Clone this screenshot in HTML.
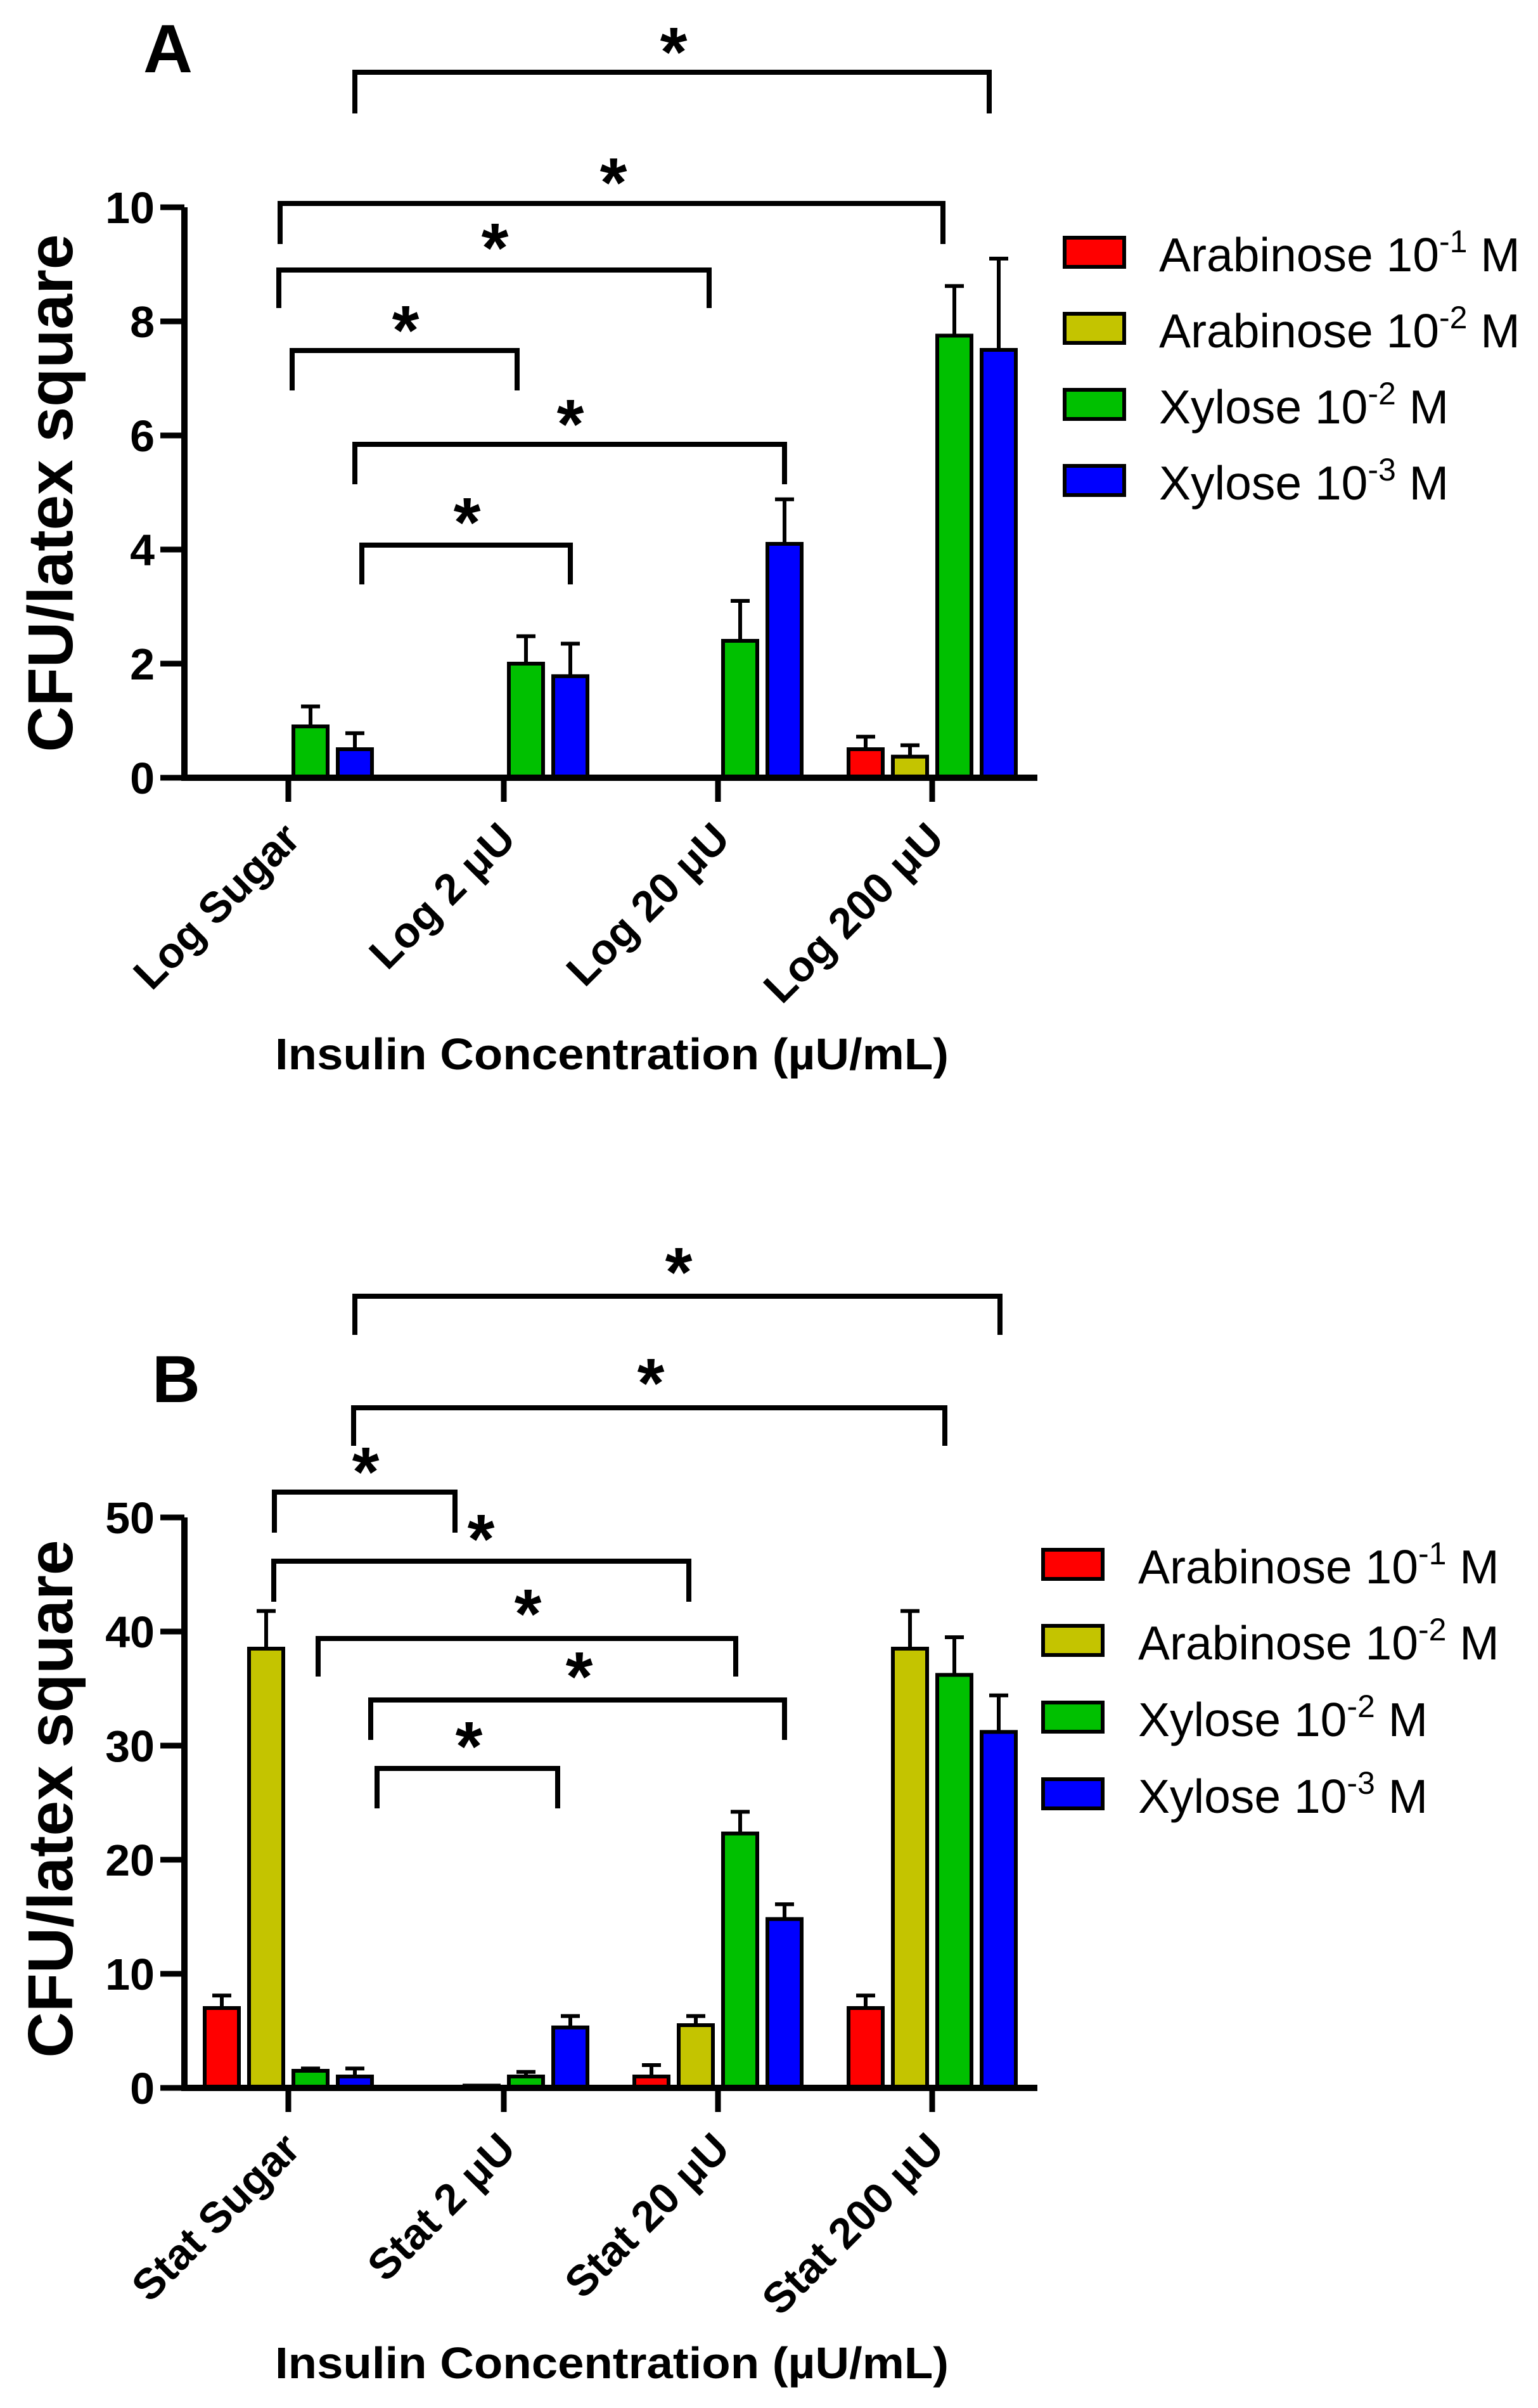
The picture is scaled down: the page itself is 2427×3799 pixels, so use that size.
<!DOCTYPE html>
<html><head><meta charset="utf-8"><style>
html,body{margin:0;padding:0;background:#fff;}
svg{display:block;font-family:"Liberation Sans",Arial,sans-serif;}
</style></head><body>
<svg id="chart" width="2427" height="3799" viewBox="0 0 2427 3799" xmlns="http://www.w3.org/2000/svg">
<rect width="2427" height="3799" fill="#fff"/>
</svg>
<script>
// ---- data ----
const seriesNames = ["Arabinose 10", "Arabinose 10", "Xylose 10", "Xylose 10"];
const seriesExp = ["-1", "-2", "-2", "-3"];
const seriesColors = ["#ff0000", "#c4c400", "#00c000", "#0000ff"];
const catsA = ["Log Sugar", "Log 2 \u03bcU", "Log 20 \u03bcU", "Log 200 \u03bcU"];
const catsB = ["Stat Sugar", "Stat 2 \u03bcU", "Stat 20 \u03bcU", "Stat 200 \u03bcU"];
const arabinose1A = [0, 0, 0, 0.5];
const arabinose2A = [0, 0, 0, 0.37];
const xylose2A = [0.9, 2.0, 2.4, 7.75];
const xylose3A = [0.5, 1.78, 4.1, 7.5];
const arabinose1AErr = [0, 0, 0, 0.22];
const arabinose2AErr = [0, 0, 0, 0.2];
const xylose2AErr = [0.35, 0.48, 0.7, 0.87];
const xylose3AErr = [0.28, 0.57, 0.78, 1.6];
const ticksA = [0, 2, 4, 6, 8, 10];

const arabinose1B = [7.0, 0, 1.0, 7.0];
const arabinose2B = [38.5, 0.2, 5.5, 38.5];
const xylose2B = [1.5, 1.0, 22.3, 36.2];
const xylose3B = [1.0, 5.3, 14.8, 31.2];
const arabinose1BErr = [1.1, 0, 1.0, 1.1];
const arabinose2BErr = [3.3, 0, 0.8, 3.3];
const xylose2BErr = [0.2, 0.4, 1.9, 3.3];
const xylose3BErr = [0.7, 1.0, 1.3, 3.2];
const ticksB = [0, 10, 20, 30, 40, 50];

const NS = "http://www.w3.org/2000/svg";
const svg = document.getElementById("chart");
function mk(tag, attrs, parent) {
  const e = document.createElementNS(NS, tag);
  for (const k in attrs) e.setAttribute(k, attrs[k]);
  (parent || svg).appendChild(e);
  return e;
}

function panel(cfg) {
  const g = mk("g", {});
  
  
  const y = v => cfg.y0 - v / cfg.max * (cfg.y0 - cfg.yTop);
  const groupX = [455, 795, 1133, 1471];
  const offs = [-105, -35, 35, 105];
  const bw = 54;
  cfg.series.forEach((vals, s) => {
    vals.forEach((v, c) => {
      const cx = groupX[c] + offs[s];
      if (v > 0) {
        const r = mk("rect", {x: cx - bw/2, y: y(v), width: bw, height: cfg.y0 - y(v), fill: seriesColors[s], stroke: "#000", "stroke-width": 6}, g);
        
        
        const e = cfg.errs[s][c];
        if (e > 0) {
          const l = mk("path", {d: `M${cx} ${y(v)} V${y(v+e)} M${cx-15} ${y(v+e)} H${cx+15}`, stroke: "#000", "stroke-width": 6, fill: "none"}, g);
          
          
        }
      }
    });
  });
  const ax = mk("path", {d: `M291 ${cfg.yTop} V${cfg.y0} H1637`, stroke: "#000", "stroke-width": 10, fill: "none"}, g);
  
  
  cfg.ticks.forEach(t => {
    mk("line", {x1: 253, x2: 291, y1: y(t), y2: y(t), stroke: "#000", "stroke-width": 9}, g);
    const tx = mk("text", {x: 244, y: y(t) + 25, "text-anchor": "end", "font-size": 70, "font-weight": "bold"}, g);
    tx.textContent = t;
    
    
  });
  groupX.forEach((gx, i) => {
    mk("line", {x1: gx, x2: gx, y1: cfg.y0, y2: cfg.y0 + 38, stroke: "#000", "stroke-width": 9}, g);
    const lx = gx + 22, ly = cfg.y0 + 100;
    const tx = mk("text", {x: lx, y: ly, "text-anchor": "end", "font-size": 68, "font-weight": "bold", transform: `rotate(-45 ${lx} ${ly})`}, g);
    tx.textContent = cfg.cats[i];
    
    
  });
  const yt = mk("text", {x: 0, y: 0, "text-anchor": "middle", "font-size": 100, "font-weight": "bold", transform: `translate(114 ${cfg.yTitle}) rotate(-90)`}, g);
  yt.textContent = "CFU/latex square";
  
  
  const xt = mk("text", {x: 434, y: cfg.xTitleY, "font-size": 70, "font-weight": "bold", textLength: 1063, lengthAdjust: "spacingAndGlyphs"}, g);
  xt.textContent = "Insulin Concentration (\u00b5U/mL)";
  
  
  const pl = mk("text", {x: cfg.letterX, y: cfg.letterY, "font-size": cfg.letterSize, "font-weight": "bold"}, g);
  pl.textContent = cfg.letter;
  
  
  cfg.brackets.forEach(b => {
    const [x1, x2, yy, yb, sx, sy] = b;
    const p = mk("path", {d: `M${x1} ${yb} V${yy} H${x2} V${yb}`, stroke: "#000", "stroke-width": 8, fill: "none"}, g);
    
    
    const st = mk("text", {x: sx, y: sy + 60, "text-anchor": "middle", "font-size": 110, "font-weight": "bold"}, g);
    st.textContent = "*";
    
    
  });
  for (let s = 0; s < 4; s++) {
    const cy = cfg.legY[s];
    const sw = mk("rect", {x: cfg.legX, y: cy - 23, width: 94, height: 46, fill: seriesColors[s], stroke: "#000", "stroke-width": 6}, g);
    
    
    const tx = mk("text", {x: cfg.legTextX, y: cy + 30, "font-size": 75}, g);
    
    
    const t1 = mk("tspan", {}, tx); t1.textContent = seriesNames[s];
    const t2 = mk("tspan", {dy: -30, "font-size": 50}, tx); t2.textContent = seriesExp[s];
    const t3 = mk("tspan", {dy: 30}, tx); t3.textContent = " M";
  }
}

panel({
  name: "panel-a", letter: "A", letterX: 226, letterY: 114, letterSize: 108,
  y0: 1227, yTop: 327, max: 10, ticks: ticksA, cats: catsA,
  series: [arabinose1A, arabinose2A, xylose2A, xylose3A],
  errs: [arabinose1AErr, arabinose2AErr, xylose2AErr, xylose3AErr],
  yTitle: 778, xTitleY: 1687,
  legX: 1680, legY: [398, 518, 638, 758], legTextX: 1829,
  brackets: [
    [560, 1561, 114, 179, 1063, 60],
    [442, 1488, 321, 385, 968, 266],
    [440, 1119, 426, 486, 781, 369],
    [461, 816, 553, 616, 640, 499],
    [560, 1238, 701, 764, 900, 647],
    [571, 900, 860, 922, 737, 802]
  ]
});
panel({
  name: "panel-b", letter: "B", letterX: 240, letterY: 2212, letterSize: 105,
  y0: 3294, yTop: 2394, max: 50, ticks: ticksB, cats: catsB,
  series: [arabinose1B, arabinose2B, xylose2B, xylose3B],
  errs: [arabinose1BErr, arabinose2BErr, xylose2BErr, xylose3BErr],
  yTitle: 2838, xTitleY: 3752,
  legX: 1646, legY: [2468, 2588, 2709, 2830], legTextX: 1796,
  brackets: [
    [560, 1578, 2045, 2106, 1071, 1985],
    [558, 1491, 2221, 2281, 1027, 2160],
    [433, 718, 2354, 2418, 577, 2300],
    [432, 1087, 2463, 2527, 759, 2406],
    [502, 1161, 2585, 2645, 833, 2524],
    [585, 1238, 2682, 2745, 914, 2623],
    [595, 880, 2790, 2853, 740, 2733]
  ]
});
</script>
</body></html>
